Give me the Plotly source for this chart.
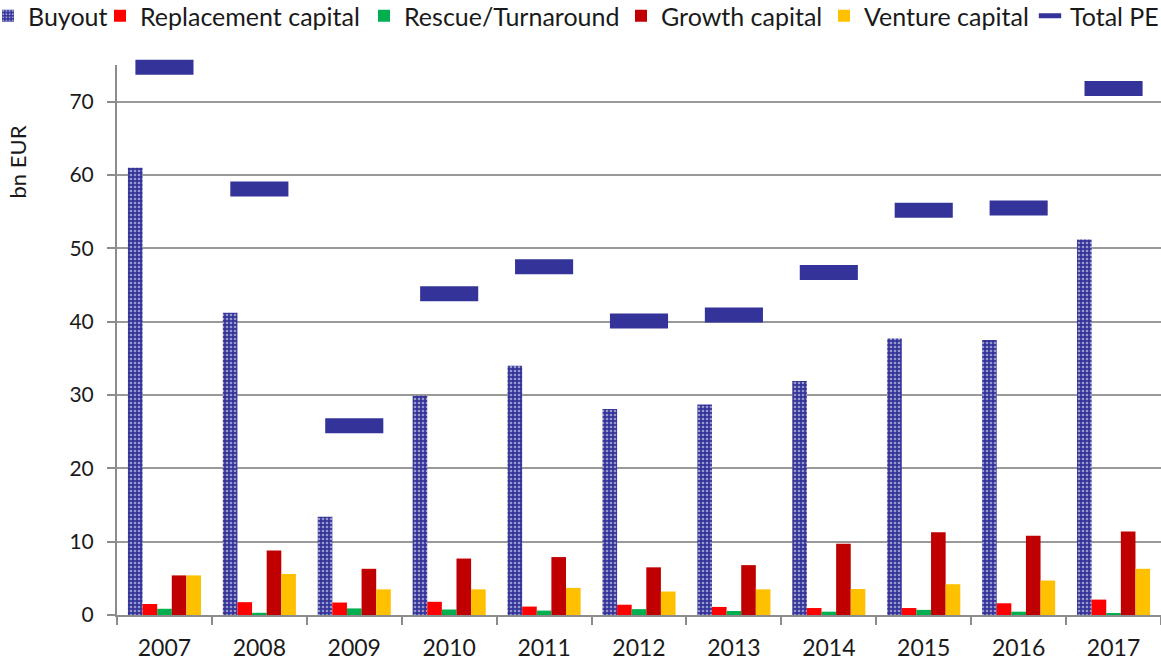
import plotly.graph_objects as go

years = ["2007", "2008", "2009", "2010", "2011", "2012", "2013", "2014", "2015", "2016", "2017"]
buyout = [61.0, 41.2, 13.4, 29.9, 34.0, 28.1, 28.7, 31.9, 37.7, 37.5, 51.2]
replacement = [1.5, 1.75, 1.7, 1.8, 1.15, 1.4, 1.1, 0.95, 0.95, 1.6, 2.1]
rescue = [0.85, 0.3, 0.9, 0.75, 0.6, 0.8, 0.55, 0.45, 0.7, 0.45, 0.25]
growth = [5.4, 8.8, 6.3, 7.7, 7.9, 6.5, 6.8, 9.7, 11.3, 10.8, 11.4]
venture = [5.4, 5.6, 3.5, 3.5, 3.7, 3.2, 3.5, 3.55, 4.2, 4.7, 6.3]
total_pe = [74.7, 58.1, 25.8, 43.8, 47.5, 40.1, 40.9, 46.7, 55.2, 55.5, 71.8]

FONT = "Lato"
W, H = 1161, 661
fig = go.Figure()
fig.add_trace(go.Bar(
    x=years, y=buyout, name="Buyout", legend="legend",
    marker=dict(color="#333399", line=dict(width=0),
                pattern=dict(shape=".", fgcolor="white", bgcolor="#333399", size=4, solidity=0.35)),
))
fig.add_trace(go.Bar(x=years, y=replacement, name="Replacement capital", legend="legend2",
                     marker=dict(color="#FF0000", line=dict(width=0))))
fig.add_trace(go.Bar(x=years, y=rescue, name="Rescue/Turnaround", legend="legend3",
                     marker=dict(color="#00B050", line=dict(width=0))))
fig.add_trace(go.Bar(x=years, y=growth, name="Growth capital", legend="legend4",
                     marker=dict(color="#C00000", line=dict(width=0))))
fig.add_trace(go.Bar(x=years, y=venture, name="Venture capital", legend="legend5",
                     marker=dict(color="#FFC000", line=dict(width=0))))
fig.add_trace(go.Scatter(
    x=years, y=total_pe, name="Total PE", mode="markers", legend="legend6",
    cliponaxis=False,
    marker=dict(symbol="line-ew", size=41.5, color="#333399",
                line=dict(color="#333399", width=15)),
))

legend_x_px = [0, 100, 364, 621, 824, 1030]
legend_indent = [-12, 0, 0, 0, 0, 0]
def leg(i):
    return dict(orientation="h", xref="container", yref="container",
                x=legend_x_px[i] / W, xanchor="left", y=1 - 16 / H, yanchor="middle",
                indentation=legend_indent[i],
                font=dict(size=25), bgcolor="rgba(0,0,0,0)", borderwidth=0)

fig.update_layout(
    width=W, height=H,
    margin=dict(l=117, r=0, t=65, b=43),
    paper_bgcolor="white", plot_bgcolor="white",
    barmode="group", bargap=0.23, bargroupgap=0,
    font=dict(family=FONT, size=22, color="#1a1a1a"),
    showlegend=True,
    legend=leg(0), legend2=leg(1), legend3=leg(2),
    legend4=leg(3), legend5=leg(4), legend6=leg(5),
    xaxis=dict(range=[-0.5, 10.5], showline=True, linecolor="#8c8c8c", linewidth=2,
               ticks="outside", tickson="boundaries", ticklen=8, tickwidth=2,
               tickcolor="#8c8c8c", showgrid=False, tickfont=dict(size=23),
               ticklabelstandoff=11),
    yaxis=dict(range=[0, 75], dtick=10, showline=True, linecolor="#8c8c8c", linewidth=2,
               ticks="outside", ticklen=8, tickwidth=2, tickcolor="#8c8c8c",
               ticklabelstandoff=9,
               showgrid=True, gridcolor="#999999", gridwidth=2,
               zeroline=False, tickfont=dict(size=21)),
    annotations=[dict(text="bn EUR", textangle=-90, xref="paper", yref="paper",
                      x=(17 - 117) / 1044, y=(618 - 163) / 553, xanchor="center", yanchor="middle",
                      showarrow=False, font=dict(size=22))],
)

fig.write_html("out.html", config={"displayModeBar": False},
               post_script="document.body.style.margin='0px';")
